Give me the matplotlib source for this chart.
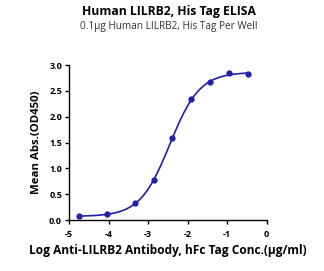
import numpy as np
import matplotlib
matplotlib.use('Agg')
import matplotlib.pyplot as plt

plt.rcParams['font.family'] = ['Open Sans', 'DejaVu Sans']

## 데이터
log_conc = [-4.74, -4.03, -3.32, -2.86, -2.39, -1.91, -1.44, -0.95, -0.47]
mean_abs = [0.07, 0.12, 0.33, 0.78, 1.59, 2.35, 2.68, 2.84, 2.83]

## 4PL 피팅 파라미터 (그림에서 추정)
fit_bottom = 0.07
fit_top = 2.86
fit_logec50 = -2.45
fit_hill = 1.15

x_ticks = [-5, -4, -3, -2, -1, 0]
y_ticks = [0.0, 0.5, 1.0, 1.5, 2.0, 2.5, 3.0]

title = 'Human LILRB2, His Tag ELISA'
subtitle = '0.1μg Human LILRB2, His Tag Per Well'
xlabel = 'Log Anti-LILRB2 Antibody, hFc Tag Conc.(μg/ml)'
ylabel = 'Mean Abs.(OD450)'

color = '#1f1fa8'

fig = plt.figure(figsize=(3.24, 2.71), dpi=100)
ax = fig.add_axes([0.213, 0.188, 0.61, 0.572])

xx = np.linspace(log_conc[0], log_conc[-1], 300)
yy = fit_bottom + (fit_top - fit_bottom) / (1 + 10 ** ((fit_logec50 - xx) * fit_hill))
ax.plot(xx, yy, color=color, lw=1.2)
ax.plot(log_conc, mean_abs, 'o', color=color, ms=3.5)

ax.set_xlim(-5, 0)
ax.set_ylim(0, 3.0)
ax.set_xticks(x_ticks)
ax.set_xticklabels([str(t) for t in x_ticks])
ax.set_yticks(y_ticks)
ax.set_yticklabels(['%.1f' % t for t in y_ticks])
for s in ['top', 'right']:
    ax.spines[s].set_visible(False)
for s in ['left', 'bottom']:
    ax.spines[s].set_linewidth(1.0)
ax.tick_params(length=3, width=1.0, labelsize=6.5)
ax.tick_params(axis='x', pad=4)
ax.tick_params(axis='y', pad=2)
for lab in ax.get_xticklabels() + ax.get_yticklabels():
    lab.set_fontweight('bold')

ax.set_xlabel(xlabel, fontsize=8.6, fontweight='bold', labelpad=4)
ax.set_ylabel(ylabel, fontsize=8.2, fontweight='bold', labelpad=5)

fig.text(0.52, 0.958, title, ha='center', va='center', fontsize=8.7, fontweight='bold')
fig.text(0.52, 0.903, subtitle, ha='center', va='center', fontsize=7.2, color='#333333')

fig.savefig('out.png', dpi=100)
